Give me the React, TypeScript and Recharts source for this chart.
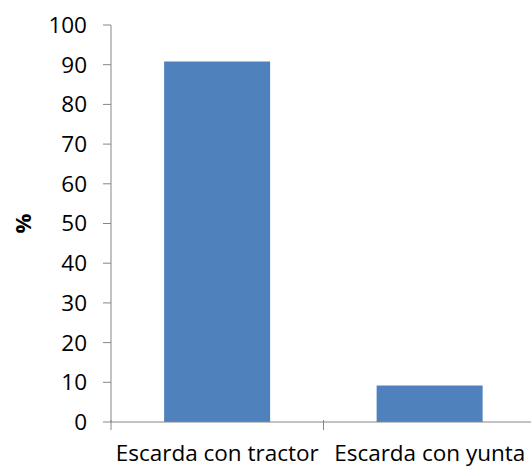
import React from 'react';
import { BarChart, Bar, XAxis, YAxis, Label } from 'recharts';

const categories = ['Escarda con tractor', 'Escarda con yunta'];
const percentages = [90.8, 9.2];
const yTicks = [0, 10, 20, 30, 40, 50, 60, 70, 80, 90, 100];

const data = categories.map((name, i) => ({ name, value: percentages[i] }));

const FONT = '"Open Sans", sans-serif';
const AXIS_COLOR = '#868686';

const XTick = (props: any) => {
  const { x, y, payload } = props;
  const half = payload && payload.offset ? payload.offset : 0;
  const axisY = y - 2;
  return (
    <g>
      <line x1={x - half} x2={x - half} y1={axisY - 2} y2={axisY + 8} stroke={AXIS_COLOR} strokeWidth={1} />
      <line x1={x + half} x2={x + half} y1={axisY - 2} y2={axisY + 8} stroke={AXIS_COLOR} strokeWidth={1} />
      <text x={x} y={axisY + 39} textAnchor="middle" fontFamily={FONT} fontSize={22.5} fill="#000">
        {payload.value}
      </text>
    </g>
  );
};

export default function App() {
  return (
    <div style={{ position: 'absolute', left: 0, top: 0, width: 531, height: 468, overflow: 'hidden', background: '#fff' }}>
      <BarChart width={545} height={468} data={data} margin={{ top: 25, right: 9, left: 0, bottom: 0 }} barCategoryGap="25%">
        <XAxis
          dataKey="name"
          height={46}
          axisLine={{ stroke: AXIS_COLOR }}
          tickLine={false}
          tickSize={0}
          tickMargin={2}
          tick={<XTick />}
          interval={0}
        />
        <YAxis
          width={111}
          domain={[0, 100]}
          ticks={yTicks}
          interval={0}
          axisLine={{ stroke: AXIS_COLOR }}
          tickLine={{ stroke: AXIS_COLOR }}
          tickSize={8}
          tickMargin={16}
          tick={{ fontFamily: FONT, fontSize: 22.5, fill: '#000' }}
        >
          <Label
            content={(p: any) => {
              const vb = p.viewBox || {};
              const cx = vb.x + 22;
              const cy = vb.y + vb.height / 2;
              return (
                <text
                  x={cx}
                  y={cy}
                  transform={`rotate(-90, ${cx}, ${cy})`}
                  textAnchor="middle"
                  dominantBaseline="central"
                  fontFamily={FONT}
                  fontWeight="bold"
                  fontSize={22}
                  fill="#000"
                >
                  %
                </text>
              );
            }}
          />
        </YAxis>
        <Bar dataKey="value" fill="#4F81BD" isAnimationActive={false} />
      </BarChart>
    </div>
  );
}
